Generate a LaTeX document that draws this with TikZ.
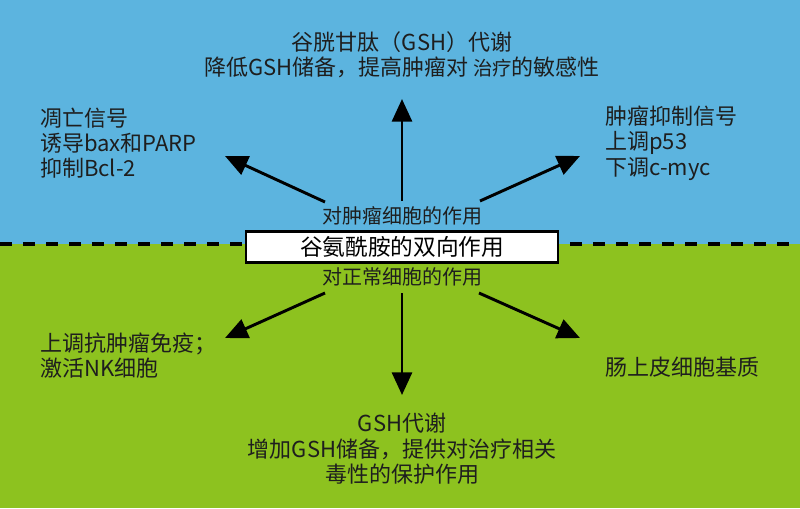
\documentclass[tikz,border=0pt]{standalone}
\usepackage{fontspec}
\setmainfont{Noto Sans CJK SC}
\usepackage{xcolor}
\usetikzlibrary{arrows.meta,positioning,calc}
\definecolor{tumorblue}{RGB}{92,180,223}
\definecolor{normalgreen}{RGB}{141,194,31}
\definecolor{inkdark}{RGB}{30,30,30}
\tikzset{
  txt/.style={inner sep=0pt, align=left, text=inkdark, font=\fontsize{16.5pt}{19pt}\selectfont},
  ctxt/.style={txt, align=center},
  sidelabel/.style={inner sep=0pt, text=inkdark, font=\fontsize{15pt}{18pt}\selectfont},
  mainbox/.style={rectangle, draw=black, line width=2.2pt, fill=white, minimum width=234pt, minimum height=23pt, inner sep=0pt, font=\fontsize{17pt}{20pt}\selectfont},
  effect/.style={-{Triangle[length=17pt,width=15pt]}, line width=2.2pt, draw=black},
  divider/.style={draw=black, line width=3pt, dash pattern=on 9pt off 8.25pt}
}
\begin{document}
\begin{tikzpicture}[x=0.75pt, y=-0.75pt]
  \useasboundingbox (0,0) rectangle (800,508);
  % Two halves (tumor cells above, normal cells below)
  \fill[tumorblue] (0,0) rectangle (800,243.5);
  \fill[normalgreen] (0,243.5) rectangle (800,508);

  % Central box and its two labels
  \node[mainbox] (glu) at (402,247) {谷氨酰胺的双向作用};
  \node[sidelabel] (tumor) at (402,216) {对肿瘤细胞的作用};
  \node[sidelabel] (normal) at (402,277) {对正常细胞的作用};

  % Dashed border between the halves
  \coordinate (divL) at (0,243.5);
  \coordinate (divR) at (800,243.5);
  \draw[divider] (divL) -- (divL -| glu.west);
  \draw[divider, dash phase=9pt] (divR -| glu.east) -- (divR);

  % Effect texts
  \node[ctxt] (gsh) at (402,54.5) {谷胱甘肽（GSH）代谢\\降低GSH储备，提高肿瘤对 {\fontsize{14.5pt}{19pt}\selectfont 治疗}的敏感性};
  \node[txt, anchor=west] (apop) at (40,143) {凋亡信号\\诱导bax和PARP\\抑制Bcl-2};
  \node[txt, anchor=west] (supp) at (605,143) {肿瘤抑制信号\\上调p53\\下调c-myc};
  \node[txt, anchor=west] (immu) at (40,355.5) {上调抗肿瘤免疫；\\激活NK细胞};
  \node[txt, anchor=west] (gut) at (605,367) {肠上皮细胞基质};
  \node[ctxt] (prot) at (402,449) {GSH代谢\\增加GSH储备，提供对治疗相关\\毒性的保护作用};

  % Arrow ends
  \coordinate (tUL) at (325,202);
  \coordinate (tU)  at (402,201);
  \coordinate (tUR) at (480,201);
  \coordinate (hUL) at (225,156);
  \coordinate (hU)  at (402,99);
  \coordinate (hUR) at (580,156);
  \coordinate (tLL) at (325,293);
  \coordinate (tD)  at (402,293);
  \coordinate (tLR) at (479,293);
  \coordinate (hLL) at (225,338);
  \coordinate (hD)  at (402,395);
  \coordinate (hLR) at (580,338);

  % Arrows to tumor cell effects
  \draw[effect] (tUL) -- (hUL);
  \draw[effect] (tU) -- (hU);
  \draw[effect] (tUR) -- (hUR);

  % Arrows to normal cell effects
  \draw[effect] (tLL) -- (hLL);
  \draw[effect] (tD) -- (hD);
  \draw[effect] (tLR) -- (hLR);
\end{tikzpicture}
\end{document}
